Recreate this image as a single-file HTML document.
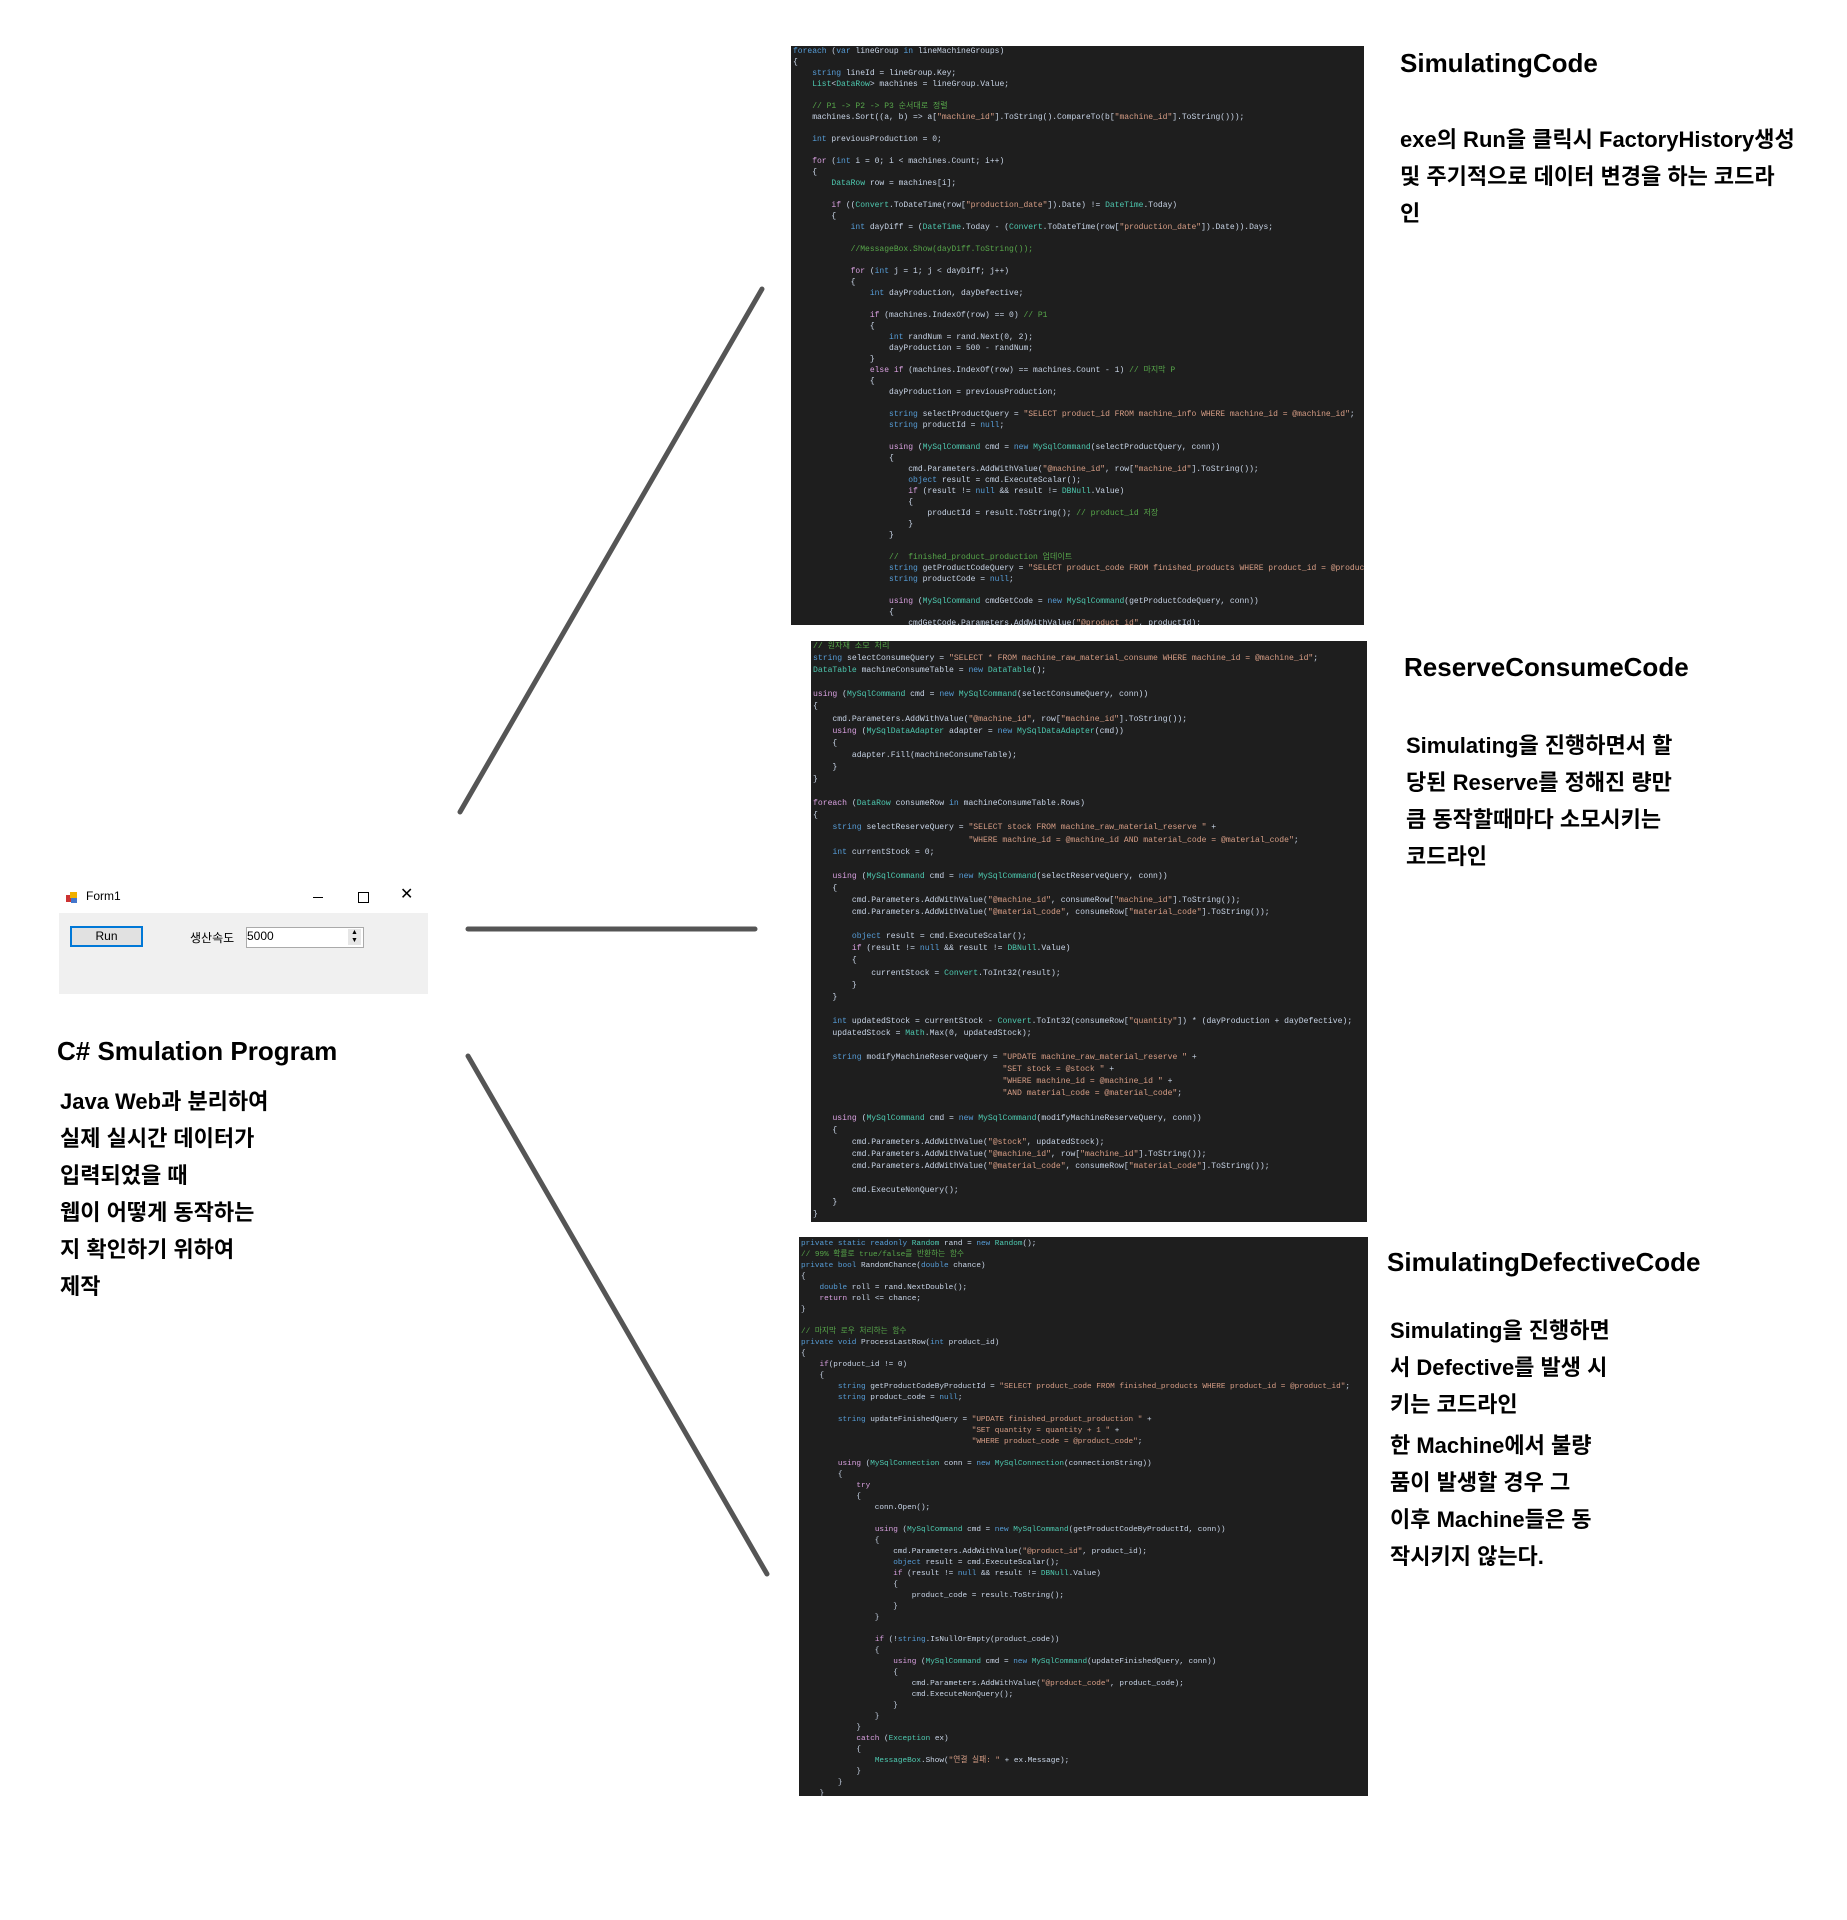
<!DOCTYPE html>
<html><head><meta charset="utf-8">
<style>
body{margin:0;width:1847px;height:1920px;background:#fff;position:relative;overflow:hidden;font-family:"Liberation Sans","Noto Sans CJK KR",sans-serif;}
.abs{position:absolute;}
.code{position:absolute;background:#1e1e1e;overflow:hidden;margin:0;font-family:"Liberation Mono","Noto Sans CJK KR",monospace;color:#c8d4e6;white-space:pre;padding:0 0 0 2px;box-sizing:border-box;}
.k{color:#569cd6}.c{color:#57a64a}.s{color:#d69d85}.t{color:#4ec9b0}.m{color:#d8a0df}
.title{position:absolute;font-weight:bold;font-size:26px;color:#000;white-space:nowrap;}
.body{position:absolute;font-weight:bold;font-size:22px;line-height:37px;color:#000;white-space:nowrap;}
</style></head><body>

<svg class="abs" style="left:0;top:0" width="1847" height="1920">
<g stroke="#555" stroke-width="5" stroke-linecap="round">
<line x1="460" y1="812" x2="762" y2="289"/>
<line x1="468" y1="929" x2="755" y2="929"/>
<line x1="468" y1="1056" x2="767" y2="1574"/>
</g>
</svg>

<!-- Form -->
<div class="abs" style="left:66px;top:892px;width:11px;height:11px;">
<div class="abs" style="left:0;top:3px;width:5px;height:7px;background:#c33"></div>
<div class="abs" style="left:4px;top:0;width:7px;height:6px;background:#f0b000"></div>
<div class="abs" style="left:5px;top:6px;width:6px;height:5px;background:#47c"></div>
</div>
<div class="abs" style="left:86px;top:889px;font-size:12px;color:#000;">Form1</div>
<div class="abs" style="left:313px;top:897px;width:10px;height:1px;background:#000"></div>
<div class="abs" style="left:358px;top:892px;width:9px;height:9px;border:1px solid #000"></div>
<div class="abs" style="left:400px;top:884px;font-size:16px;color:#000;">✕</div>
<div class="abs" style="left:59px;top:913px;width:369px;height:81px;background:#f0f0f0"></div>
<div class="abs" style="left:70px;top:926px;width:69px;height:17px;border:2px solid #0078d7;background:#e1e1e1;font-size:12px;text-align:center;line-height:17px;">Run</div>
<div class="abs" style="left:190px;top:929px;font-size:12px;">생산속도</div>
<div class="abs" style="left:246px;top:927px;width:116px;height:19px;border:1px solid #aaa;background:#fff;font-size:12px;line-height:17px;">5000</div>
<div class="abs" style="left:348px;top:929px;width:13px;height:16px;background:#e6e6e6;font-size:7px;line-height:8px;text-align:center;">▲<br>▼</div>

<div class="title" style="left:57px;top:1036px;">C# Smulation Program</div>
<div class="body" style="left:60px;top:1083px;">Java Web과 분리하여<br>실제 실시간 데이터가<br>입력되었을 때<br>웹이 어떻게 동작하는<br>지 확인하기 위하여<br>제작</div>

<!-- Right texts -->
<div class="title" style="left:1400px;top:48px;">SimulatingCode</div>
<div class="body" style="left:1400px;top:121px;">exe의 Run을 클릭시 FactoryHistory생성<br>및 주기적으로 데이터 변경을 하는 코드라<br>인</div>
<div class="title" style="left:1404px;top:652px;">ReserveConsumeCode</div>
<div class="body" style="left:1406px;top:727px;">Simulating을 진행하면서 할<br>당된 Reserve를 정해진 량만<br>큼 동작할때마다 소모시키는<br>코드라인</div>
<div class="title" style="left:1387px;top:1247px;">SimulatingDefectiveCode</div>
<div class="body" style="left:1390px;top:1312px;">Simulating을 진행하면<br>서 Defective를 발생 시<br>키는 코드라인<br><div style="height:4px"></div>한 Machine에서 불량<br>품이 발생할 경우 그<br>이후 Machine들은 동<br>작시키지 않는다.</div>

<pre class="code" style="left:791px;top:46px;width:573px;height:579px;font-size:8px;line-height:11px;"><span class="k">foreach</span> (<span class="k">var</span> lineGroup <span class="k">in</span> lineMachineGroups)
{
    <span class="k">string</span> lineId = lineGroup.Key;
    <span class="t">List</span>&lt;<span class="t">DataRow</span>&gt; machines = lineGroup.Value;

    <span class="c">// P1 -&gt; P2 -&gt; P3 순서대로 정렬</span>
    machines.Sort((a, b) =&gt; a[<span class="s">"machine_id"</span>].ToString().CompareTo(b[<span class="s">"machine_id"</span>].ToString()));

    <span class="k">int</span> previousProduction = 0;

    <span class="m">for</span> (<span class="k">int</span> i = 0; i &lt; machines.Count; i++)
    {
        <span class="t">DataRow</span> row = machines[i];

        <span class="m">if</span> ((<span class="t">Convert</span>.ToDateTime(row[<span class="s">"production_date"</span>]).Date) != <span class="t">DateTime</span>.Today)
        {
            <span class="k">int</span> dayDiff = (<span class="t">DateTime</span>.Today - (<span class="t">Convert</span>.ToDateTime(row[<span class="s">"production_date"</span>]).Date)).Days;

            <span class="c">//MessageBox.Show(dayDiff.ToString());</span>

            <span class="m">for</span> (<span class="k">int</span> j = 1; j &lt; dayDiff; j++)
            {
                <span class="k">int</span> dayProduction, dayDefective;

                <span class="m">if</span> (machines.IndexOf(row) == 0) <span class="c">// P1</span>
                {
                    <span class="k">int</span> randNum = rand.Next(0, 2);
                    dayProduction = 500 - randNum;
                }
                <span class="m">else if</span> (machines.IndexOf(row) == machines.Count - 1) <span class="c">// 마지막 P</span>
                {
                    dayProduction = previousProduction;

                    <span class="k">string</span> selectProductQuery = <span class="s">"SELECT product_id FROM machine_info WHERE machine_id = @machine_id"</span>;
                    <span class="k">string</span> productId = <span class="k">null</span>;

                    <span class="m">using</span> (<span class="t">MySqlCommand</span> cmd = <span class="k">new</span> <span class="t">MySqlCommand</span>(selectProductQuery, conn))
                    {
                        cmd.Parameters.AddWithValue(<span class="s">"@machine_id"</span>, row[<span class="s">"machine_id"</span>].ToString());
                        <span class="k">object</span> result = cmd.ExecuteScalar();
                        <span class="m">if</span> (result != <span class="k">null</span> &amp;&amp; result != <span class="t">DBNull</span>.Value)
                        {
                            productId = result.ToString(); <span class="c">// product_id 저장</span>
                        }
                    }

                    <span class="c">//  finished_product_production 업데이트</span>
                    <span class="k">string</span> getProductCodeQuery = <span class="s">"SELECT product_code FROM finished_products WHERE product_id = @product_id"</span>;
                    <span class="k">string</span> productCode = <span class="k">null</span>;

                    <span class="m">using</span> (<span class="t">MySqlCommand</span> cmdGetCode = <span class="k">new</span> <span class="t">MySqlCommand</span>(getProductCodeQuery, conn))
                    {
                        cmdGetCode.Parameters.AddWithValue(<span class="s">"@product_id"</span>, productId);</pre>

<pre class="code" style="left:811px;top:641px;width:556px;height:581px;font-size:8.1px;line-height:12.1px;"><span class="c">// 원자재 소모 처리</span>
<span class="k">string</span> selectConsumeQuery = <span class="s">"SELECT * FROM machine_raw_material_consume WHERE machine_id = @machine_id"</span>;
<span class="t">DataTable</span> machineConsumeTable = <span class="k">new</span> <span class="t">DataTable</span>();

<span class="m">using</span> (<span class="t">MySqlCommand</span> cmd = <span class="k">new</span> <span class="t">MySqlCommand</span>(selectConsumeQuery, conn))
{
    cmd.Parameters.AddWithValue(<span class="s">"@machine_id"</span>, row[<span class="s">"machine_id"</span>].ToString());
    <span class="m">using</span> (<span class="t">MySqlDataAdapter</span> adapter = <span class="k">new</span> <span class="t">MySqlDataAdapter</span>(cmd))
    {
        adapter.Fill(machineConsumeTable);
    }
}

<span class="m">foreach</span> (<span class="t">DataRow</span> consumeRow <span class="k">in</span> machineConsumeTable.Rows)
{
    <span class="k">string</span> selectReserveQuery = <span class="s">"SELECT stock FROM machine_raw_material_reserve "</span> +
                                <span class="s">"WHERE machine_id = @machine_id AND material_code = @material_code"</span>;
    <span class="k">int</span> currentStock = 0;

    <span class="m">using</span> (<span class="t">MySqlCommand</span> cmd = <span class="k">new</span> <span class="t">MySqlCommand</span>(selectReserveQuery, conn))
    {
        cmd.Parameters.AddWithValue(<span class="s">"@machine_id"</span>, consumeRow[<span class="s">"machine_id"</span>].ToString());
        cmd.Parameters.AddWithValue(<span class="s">"@material_code"</span>, consumeRow[<span class="s">"material_code"</span>].ToString());

        <span class="k">object</span> result = cmd.ExecuteScalar();
        <span class="m">if</span> (result != <span class="k">null</span> &amp;&amp; result != <span class="t">DBNull</span>.Value)
        {
            currentStock = <span class="t">Convert</span>.ToInt32(result);
        }
    }

    <span class="k">int</span> updatedStock = currentStock - <span class="t">Convert</span>.ToInt32(consumeRow[<span class="s">"quantity"</span>]) * (dayProduction + dayDefective);
    updatedStock = <span class="t">Math</span>.Max(0, updatedStock);

    <span class="k">string</span> modifyMachineReserveQuery = <span class="s">"UPDATE machine_raw_material_reserve "</span> +
                                       <span class="s">"SET stock = @stock "</span> +
                                       <span class="s">"WHERE machine_id = @machine_id "</span> +
                                       <span class="s">"AND material_code = @material_code"</span>;

    <span class="m">using</span> (<span class="t">MySqlCommand</span> cmd = <span class="k">new</span> <span class="t">MySqlCommand</span>(modifyMachineReserveQuery, conn))
    {
        cmd.Parameters.AddWithValue(<span class="s">"@stock"</span>, updatedStock);
        cmd.Parameters.AddWithValue(<span class="s">"@machine_id"</span>, row[<span class="s">"machine_id"</span>].ToString());
        cmd.Parameters.AddWithValue(<span class="s">"@material_code"</span>, consumeRow[<span class="s">"material_code"</span>].ToString());

        cmd.ExecuteNonQuery();
    }
}</pre>

<pre class="code" style="left:799px;top:1237px;width:569px;height:559px;font-size:7.7px;line-height:11px;padding-top:2px;"><span class="k">private static readonly</span> <span class="t">Random</span> rand = <span class="k">new</span> <span class="t">Random</span>();
<span class="c">// 99% 확률로 true/false를 반환하는 함수</span>
<span class="k">private bool</span> RandomChance(<span class="k">double</span> chance)
{
    <span class="k">double</span> roll = rand.NextDouble();
    <span class="m">return</span> roll &lt;= chance;
}

<span class="c">// 마지막 로우 처리하는 함수</span>
<span class="k">private void</span> ProcessLastRow(<span class="k">int</span> product_id)
{
    <span class="m">if</span>(product_id != 0)
    {
        <span class="k">string</span> getProductCodeByProductId = <span class="s">"SELECT product_code FROM finished_products WHERE product_id = @product_id"</span>;
        <span class="k">string</span> product_code = <span class="k">null</span>;

        <span class="k">string</span> updateFinishedQuery = <span class="s">"UPDATE finished_product_production "</span> +
                                     <span class="s">"SET quantity = quantity + 1 "</span> +
                                     <span class="s">"WHERE product_code = @product_code"</span>;

        <span class="m">using</span> (<span class="t">MySqlConnection</span> conn = <span class="k">new</span> <span class="t">MySqlConnection</span>(connectionString))
        {
            <span class="m">try</span>
            {
                conn.Open();

                <span class="m">using</span> (<span class="t">MySqlCommand</span> cmd = <span class="k">new</span> <span class="t">MySqlCommand</span>(getProductCodeByProductId, conn))
                {
                    cmd.Parameters.AddWithValue(<span class="s">"@product_id"</span>, product_id);
                    <span class="k">object</span> result = cmd.ExecuteScalar();
                    <span class="m">if</span> (result != <span class="k">null</span> &amp;&amp; result != <span class="t">DBNull</span>.Value)
                    {
                        product_code = result.ToString();
                    }
                }

                <span class="m">if</span> (!<span class="k">string</span>.IsNullOrEmpty(product_code))
                {
                    <span class="m">using</span> (<span class="t">MySqlCommand</span> cmd = <span class="k">new</span> <span class="t">MySqlCommand</span>(updateFinishedQuery, conn))
                    {
                        cmd.Parameters.AddWithValue(<span class="s">"@product_code"</span>, product_code);
                        cmd.ExecuteNonQuery();
                    }
                }
            }
            <span class="m">catch</span> (<span class="t">Exception</span> ex)
            {
                <span class="t">MessageBox</span>.Show(<span class="s">"연결 실패: "</span> + ex.Message);
            }
        }
    }</pre>

</body></html>
